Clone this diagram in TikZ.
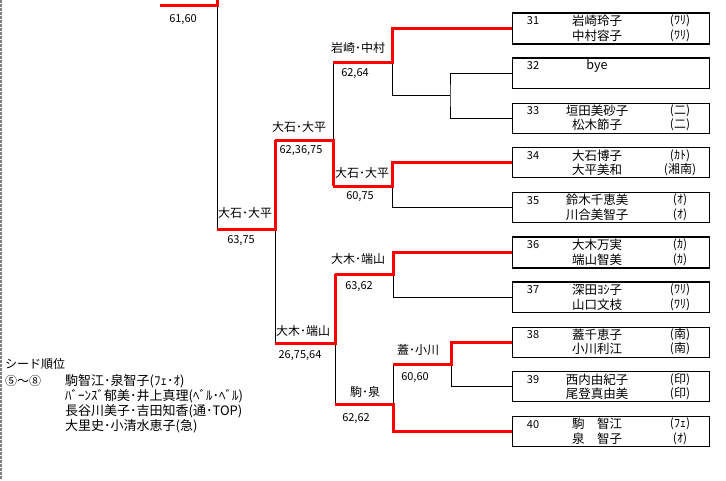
\documentclass[tikz,border=0pt]{standalone}
\usepackage{fontspec}
\newfontfamily\cjk{Noto Sans CJK JP}
\begin{document}
\begin{tikzpicture}[x=1pt,y=-1pt,
  every node/.style={font=\cjk\fontsize{12}{14}\selectfont, inner sep=0pt},
  num/.style={font=\cjk\fontsize{11}{13}\selectfont},
  boxname/.style={font=\cjk\fontsize{12.5}{14}\selectfont},
  seedtext/.style={font=\cjk\fontsize{13}{15}\selectfont, anchor=west},
  win/.style={red, line width=3pt},
  lose/.style={black, line width=0.8pt},
  entrybox/.style={draw=black, line width=0.8pt, minimum width=197pt, minimum height=30pt, anchor=north west},
  thickedge/.style={black, line width=1.8pt}]
\useasboundingbox (0,0) rectangle (726,480);
\fill[white] (0,0) rectangle (726,480);
\draw[gray, line width=1.5pt, dash pattern=on 3pt off 1pt] (1,0) -- (1,480);

% entry boxes
\foreach \n/\t/\na/\nb/\aa/\ab in {
  31/13/岩崎玲子/中村容子/(ﾜﾘ)/(ﾜﾘ),
  32/57.8/bye/{}/{}/{},
  33/102.6/垣田美砂子/松木節子/(二)/(二),
  34/147.4/大石博子/大平美和/(ｶﾄ)/(湘南),
  35/192.2/鈴木千恵美/川合美智子/(ｵ)/(ｵ),
  36/237/大木万実/端山智美/(ｶ)/(ｶ),
  37/281.8/深田ﾖｼ子/山口文枝/(ﾜﾘ)/(ﾜﾘ),
  38/326.6/蓋千恵子/小川利江/(南)/(南),
  39/371.4/西内由紀子/尾登真由美/(印)/(印),
  40/416.2/駒　智江/泉　智子/(ﾌｪ)/(ｵ)} {
  \node[entrybox] (b\n) at (512,\t) {};
  \node[num] (n\n) at (533,{\t+8}) {\n};
  \node[boxname] (na\n) at (597,{\t+8}) {\na};
  \node[boxname] (nb\n) at (597,{\t+22.5}) {\nb};
  \node (aa\n) at (680,{\t+8}) {\aa};
  \node (ab\n) at (680,{\t+22.5}) {\ab};
}
\draw[thickedge] (b31.north west) -- (b31.north east);
\draw[thickedge] (b31.south west) -- (b31.south east);
\draw[thickedge] (b32.north west) -- (b32.north east);
\draw[thickedge] (b34.north west) -- (b34.north east);
\draw[thickedge] (b36.north west) -- (b36.north east);
\draw[thickedge] (b36.south west) -- (b36.south east);
\draw[thickedge] (b37.north west) -- (b37.north east);

% junctions
\coordinate (qa) at (392,62);
\coordinate (qa0) at (333,62);
\coordinate (qb) at (450,95);
\coordinate (qc) at (392,186);
\coordinate (qc0) at (333,186);
\coordinate (qd) at (333,140);
\coordinate (qd0) at (275,140);
\coordinate (qe) at (275,229);
\coordinate (qf0) at (217,229);
\coordinate (topend) at (217,0);
\coordinate (topw) at (160,5);
\coordinate (qg) at (393,274);
\coordinate (qg0) at (335,274);
\coordinate (qj) at (335,343);
\coordinate (qj0) at (275,343);
\coordinate (qh) at (451,364);
\coordinate (qh0) at (393,364);
\coordinate (qi) at (393,404);
\coordinate (qi0) at (335,404);

% losing lines
\draw[lose] (b32.west) -| (qb) |- (b33.west);
\draw[lose] (qa) |- (qb);
\draw[lose] (qc) |- (b35.west);
\draw[lose] (qa0) -- (qd);
\draw[lose] (qe) -- (qj0);
\draw[lose] (topend) -- (qf0);
\draw[lose] (qg) |- (b37.west);
\draw[lose] (qh) |- (b39.west);
\draw[lose] (qj) -- (qi0);
\draw[lose] (qh0) -- (qi);

% winning lines
\draw[win] (b31.west) -| (qa) -- (qa0);
\draw[win] (b34.west) -| (qc) -- (qc0);
\draw[win] (qc0) -- (qd) -- (qd0);
\draw[win] (qd0) |- (qf0);
\draw[win] (topw) -| (topend);
\draw[win] (b36.west) -| (qg) -- (qg0);
\draw[win] (qg0) |- (qj0);
\draw[win] (b38.west) -| (qh) -- (qh0);
\draw[win] (b40.west) -| (qi) -- (qi0);

% match labels
\node[num] (s0) at (183,20) {61,60};
\node (w1) at (358,48) {岩崎･中村};
\node[num] (s1) at (355,74) {62,64};
\node (w2) at (299,127) {大石･大平};
\node[num] (s2) at (301,151) {62,36,75};
\node (w3) at (362,173) {大石･大平};
\node[num] (s3) at (360,197) {60,75};
\node (w4) at (245,213) {大石･大平};
\node[num] (s4) at (241,241) {63,75};
\node (w5) at (358,259) {大木･端山};
\node[num] (s5) at (359,287) {63,62};
\node (w6) at (303,331) {大木･端山};
\node[num] (s6) at (300,356) {26,75,64};
\node (w7) at (418,350) {蓋･小川};
\node[num] (s7) at (415,378) {60,60};
\node (w8) at (365,392) {駒･泉};
\node[num] (s8) at (356,419) {62,62};

% seeds
\node[anchor=west] (sd) at (5,364) {シード順位};
\node[anchor=west] (sr) at (5,381) {⑤～⑧};
\node[seedtext] (e1) at (65,381) {駒智江･泉智子(ﾌｪ･ｵ)};
\node[seedtext] (e2) at (65,396) {ﾊﾞｰﾝｽﾞ郁美･井上真理(ﾍﾞﾙ･ﾍﾞﾙ)};
\node[seedtext] (e3) at (65,411) {長谷川美子･吉田知香(通･TOP)};
\node[seedtext] (e4) at (65,426) {大里史･小清水恵子(急)};
\end{tikzpicture}
\end{document}
